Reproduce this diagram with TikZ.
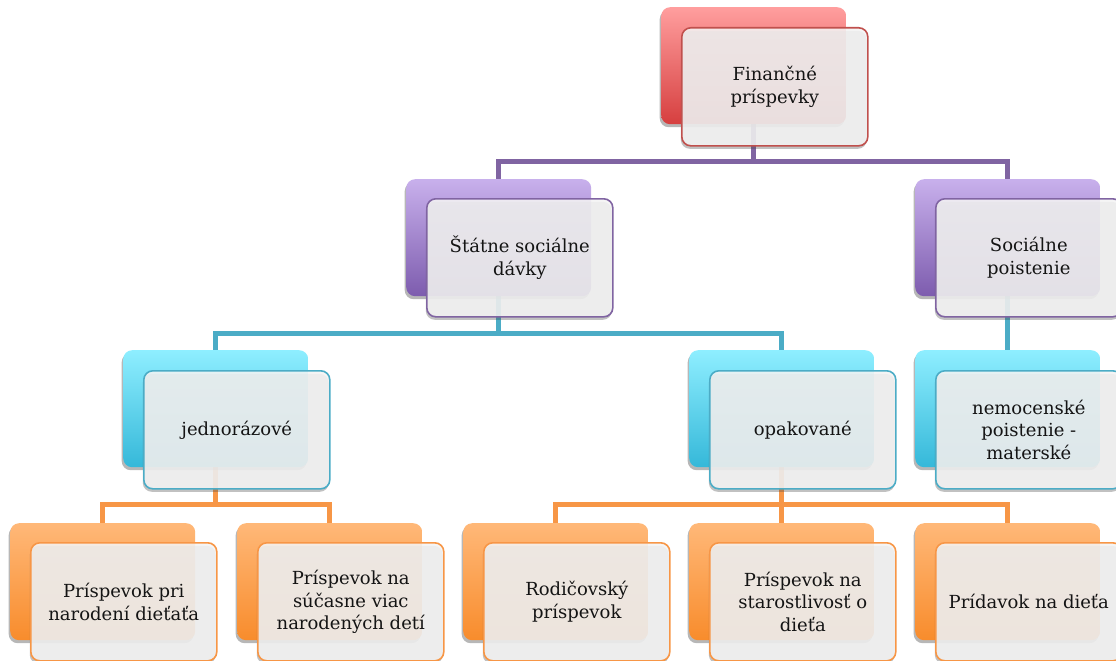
\documentclass[tikz,border=0pt]{standalone}
\usepackage{fontspec}
\setmainfont{DejaVu Serif}
\usetikzlibrary{shadows}
\pgfdeclarelayer{bg}
\pgfsetlayers{bg,main}
\definecolor{redT}{HTML}{FF9E9E}
\definecolor{redB}{HTML}{D63F3F}
\definecolor{redL}{HTML}{C0504D}
\definecolor{purT}{HTML}{C8B0EC}
\definecolor{purB}{HTML}{7D5CAE}
\definecolor{purL}{HTML}{8064A2}
\definecolor{cyaT}{HTML}{8EEEFF}
\definecolor{cyaB}{HTML}{35B8D9}
\definecolor{cyaL}{HTML}{4BACC6}
\definecolor{oraT}{HTML}{FFB878}
\definecolor{oraB}{HTML}{F88C2C}
\definecolor{oraL}{HTML}{F79646}
\definecolor{frontfill}{HTML}{F4F4F4}
\definecolor{txt}{HTML}{141414}
\tikzset{
  backbox/.style={rounded corners=9pt, minimum width=185pt, minimum height=117pt,
    inner sep=0pt, anchor=north west,
    drop shadow={shadow xshift=-1.5pt, shadow yshift=-3pt, opacity=0.4, fill=black!70}},
  frontbox/.style={draw, line width=1.6pt, rounded corners=9pt, fill=frontfill,
    fill opacity=0.88, text opacity=1, text=txt, minimum width=186pt, minimum height=118pt,
    inner sep=2pt, anchor=north west, align=center,
    font=\fontsize{18}{22.5}\selectfont,
    drop shadow={shadow xshift=-1pt, shadow yshift=-3pt, opacity=0.35, fill=black!70}},
  redback/.style={backbox, top color=redT, bottom color=redB},
  purback/.style={backbox, top color=purT, bottom color=purB},
  cyaback/.style={backbox, top color=cyaT, bottom color=cyaB},
  oraback/.style={backbox, top color=oraT, bottom color=oraB},
  redfront/.style={frontbox, draw=redL},
  purfront/.style={frontbox, draw=purL},
  cyafront/.style={frontbox, draw=cyaL},
  orafront/.style={frontbox, draw=oraL},
  conn/.style={line width=5pt, line join=miter},
}
\begin{document}
\begin{tikzpicture}[x=1pt,y=-1pt]
\useasboundingbox (0,0) rectangle (1116,661);
% level 0
\node[redback] (t0b) at (661,7) {};
\node[redfront] (t0) at (681,27) {Finančné\\príspevky};
% level 1
\node[purback] (s1b) at (406,179) {};
\node[purfront] (s1) at (426,198) {Štátne sociálne\\dávky};
\node[purback] (s2b) at (915,179) {};
\node[purfront] (s2) at (935,198) {Sociálne\\poistenie};
% level 2
\node[cyaback] (j1b) at (123,350) {};
\node[cyafront] (j1) at (143,370) {jednorázové};
\node[cyaback] (o1b) at (689,350) {};
\node[cyafront] (o1) at (709,370) {opakované};
\node[cyaback] (n1b) at (915,350) {};
\node[cyafront] (n1) at (935,370) {nemocenské\\poistenie -\\materské};
% level 3
\node[oraback] (c1b) at (10,523) {};
\node[orafront] (c1) at (30,542) {Príspevok pri\\narodení dieťaťa};
\node[oraback] (c2b) at (237,523) {};
\node[orafront] (c2) at (257,542) {Príspevok na\\súčasne viac\\narodených detí};
\node[oraback] (c3b) at (463,523) {};
\node[orafront] (c3) at (483,542) {Rodičovský\\príspevok};
\node[oraback] (c4b) at (689,523) {};
\node[orafront] (c4) at (709,542) {Príspevok na\\starostlivosť o\\dieťa};
\node[oraback] (c5b) at (915,523) {};
\node[orafront] (c5) at (935,542) {Prídavok na dieťa};
% buses
\coordinate (bus1) at (0,161);
\coordinate (bus2) at (0,333);
\coordinate (bus3) at (0,504);
\begin{pgfonlayer}{bg}
\draw[conn, purL] (t0b.center) -- (t0b.center |- bus1) -| (s1b.center);
\draw[conn, purL] (t0b.center |- bus1) -| (s2b.center);
\draw[conn, cyaL] (s1b.center) -- (s1b.center |- bus2) -| (j1b.center);
\draw[conn, cyaL] (s1b.center |- bus2) -| (o1b.center);
\draw[conn, cyaL] (s2b.center) -- (n1b.center);
\draw[conn, oraL] (j1b.center) -- (j1b.center |- bus3) -| (c1b.center);
\draw[conn, oraL] (j1b.center |- bus3) -| (c2b.center);
\draw[conn, oraL] (o1b.center) -- (o1b.center |- bus3) -| (c3b.center);
\draw[conn, oraL] (o1b.center |- bus3) -| (c4b.center);
\draw[conn, oraL] (o1b.center |- bus3) -| (c5b.center);
\end{pgfonlayer}
\end{tikzpicture}
\end{document}
